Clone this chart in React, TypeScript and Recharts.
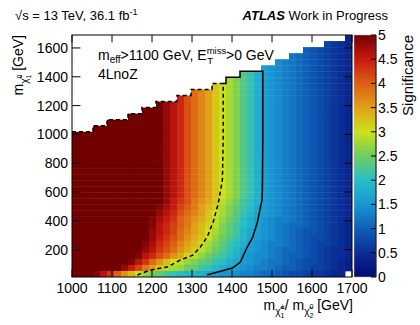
import React from "react";
import { ScatterChart, Scatter, XAxis, YAxis, ComposedChart, ReferenceArea } from "recharts";

const FONT = "'Liberation Sans', Arial, Helvetica, sans-serif";

const X_RANGE = [1000, 1700];
const Y_RANGE = [10, 1690];
const X_TICKS = [1000, 1100, 1200, 1300, 1400, 1500, 1600, 1700];
const Y_TICKS = [200, 400, 600, 800, 1000, 1200, 1400, 1600];
const Z_TICKS = [0, 0.5, 1, 1.5, 2, 2.5, 3, 3.5, 4, 4.5, 5];
const NX = 40;
const NY = 40;

// one char per bin, value = LEVELS.indexOf(c) / 10, "." = empty bin
const LEVELS = "0123456789ABCDEFGHIJKLMNOPQRSTUVWXYZabcdefghijklmno";

// significance, top row first (rows are right aligned, empty bins on the left)
const SIG_ROWS = [
  "4",
  "7654",
  "A987654",
  "CBA987654",
  "EDCBA987654",
  "GFEDCBA987654",
  "NLIGFEDCBA987654",
  "SQNLIGFEDCBA987654",
  "WUSQNLIGFEDCBA987654",
  "dbZWUSQNLIGFEDCBA987654",
  "ifdbZWUSQNLIGFEDCBA987654",
  "omkifdbZWUSQNLIGFEDCBA987654",
  "ooomkifdbZWUSQNLIGFEDCBA987654",
  "ooooomkifdbZWUSQNLIGFEDCBA987654",
  "oooooooomkifdbZWUSQNLIGFEDCBA987654",
  "oooooooooomkifdbZWUSQNLIGFEDCBA987654",
  "ooooooooooooomkifdbZWUSQNLIGFEDCBA987654",
  "ooooooooooooomkifdbZWUSQNLIGFEDCBA987654",
  "ooooooooooooomkifdbZWUSQNLIGFEDCBA987654",
  "ooooooooooooomkifdbZWUSQNLIGFEDCBA987654",
  "ooooooooooooomkifdbZWUSQNLIGFEDCBA987654",
  "ooooooooooooomkifdbZWUSQNLIGFEDCBA987654",
  "ooooooooooooomkifdbZWUSQNLIGFEDCBA987654",
  "ooooooooooooomkifdbZWUSQNLIGFEDCBA987654",
  "ooooooooooooomkifdbZWUSQNLIGFEDCBA987654",
  "ooooooooooooomkifdbZWUSQNLIGFEDCBA987654",
  "ooooooooooooomkifdbZWUSQNLIGFEDCBA987654",
  "ooooooooooooomjhfcaYWTRPMKIGFEDCBA987654",
  "oooooooooooonljgecZXVSQOMKHGFEDCBA987654",
  "oooooooooooomkifdbZWUSQNLJHGFEDCBA987654",
  "ooooooooooonljhecaYWTRPNKIGFEDDCBA987654",
  "ooooooooooonkigecZXVTQOMKIGFEDCBBA987654",
  "ooooooooooomkigdbZXUSQOMJHGFEDCBA9987654",
  "ooooooooooomjhfdaYWURPNLJHGFEDCBA9887654",
  "oooooooooonligebZXVSQOMKIGFEDDCBA9877654",
  "oooooooooomkhfdaYWTRPNLJHGFEDCBBA9876554",
  "ooooooooonkifdaYVTRPNMKIGFEEDCBAA9876554",
  "oooooooonkhdaXUTRQONLKIHGFEDCCBA98876543",
  "ooooooomjgcZWTSRPOMLJIHGFEDDCBAA98776543",
  "ooonkheaXURPOMLKJIIHGFFEDDCBBA988766544.",
].map((s) => s.padStart(NX, "."));

// 3 sigma contour (dashed) and 95% CL contour (solid), in GeV
const CONTOUR_DASHED = [
  { x: 1000, y: 1018 }, { x: 1052.5, y: 1018 }, { x: 1052.5, y: 1060 }, { x: 1087.5, y: 1060 },
  { x: 1087.5, y: 1102 }, { x: 1140, y: 1102 }, { x: 1140, y: 1144 }, { x: 1175, y: 1144 },
  { x: 1175, y: 1186 }, { x: 1210, y: 1186 }, { x: 1210, y: 1228 }, { x: 1262.5, y: 1228 },
  { x: 1262.5, y: 1270 }, { x: 1297.5, y: 1270 }, { x: 1297.5, y: 1312 }, { x: 1350, y: 1312 },
  { x: 1350, y: 1354 }, { x: 1378, y: 1354 }, { x: 1378, y: 961 }, { x: 1376, y: 684 },
  { x: 1366, y: 524 }, { x: 1353, y: 392 }, { x: 1338, y: 288 }, { x: 1321, y: 218 },
  { x: 1303, y: 163 }, { x: 1271, y: 128 }, { x: 1238, y: 79 }, { x: 1196, y: 59 },
  { x: 1163, y: 24 }, { x: 1156, y: 12 },
];
const CONTOUR_SOLID = [
  { x: 1378, y: 1354 }, { x: 1385, y: 1354 }, { x: 1385, y: 1396 }, { x: 1420, y: 1396 },
  { x: 1420, y: 1438 }, { x: 1477, y: 1438 }, { x: 1477, y: 961 }, { x: 1476, y: 614 },
  { x: 1475, y: 545 }, { x: 1463, y: 385 }, { x: 1451, y: 281 }, { x: 1438, y: 218 },
  { x: 1421, y: 114 }, { x: 1401, y: 72 }, { x: 1346, y: 31 }, { x: 1338, y: 26 },
];

const PALETTE: [number, number[]][] = [
  [0, [5, 10, 115]],
  [0.5, [10, 45, 150]],
  [1.0, [15, 95, 185]],
  [1.5, [25, 150, 210]],
  [2.0, [40, 190, 200]],
  [2.5, [110, 205, 95]],
  [3.0, [205, 225, 25]],
  [3.5, [225, 160, 25]],
  [4.0, [220, 95, 20]],
  [4.5, [200, 25, 15]],
  [5.0, [115, 0, 0]],
];

function colorFor(v: number) {
  const z = Math.max(0, Math.min(5, v));
  for (let i = 1; i < PALETTE.length; i++) {
    const [z1, c1] = PALETTE[i];
    const [z0, c0] = PALETTE[i - 1];
    if (z <= z1) {
      const t = (z - z0) / (z1 - z0);
      const c = c0.map((a, j) => Math.round(a + (c1[j] - a) * t));
      return `rgb(${c[0]},${c[1]},${c[2]})`;
    }
  }
  return "rgb(115,0,0)";
}

const W = 420;
const H = 325;
const PLOT_L = 72;
const PLOT_T = 35;
const PLOT_R = 352;
const PLOT_B = 277;
const CELL_W = (PLOT_R - PLOT_L) / NX;
const CELL_H = (PLOT_B - PLOT_T) / NY;

const dx = (X_RANGE[1] - X_RANGE[0]) / NX;
const dy = (Y_RANGE[1] - Y_RANGE[0]) / NY;
const cells: { x: number; y: number; z: number }[] = [];
SIG_ROWS.forEach((row, i) => {
  const r = NY - 1 - i;
  for (let k = 0; k < NX; k++) {
    const c = row[k];
    if (c === ".") continue;
    cells.push({
      x: X_RANGE[0] + (k + 0.5) * dx,
      y: Y_RANGE[0] + (r + 0.5) * dy,
      z: LEVELS.indexOf(c) / 10,
    });
  }
});

const CellShape = (p: any) => {
  if (p.cx == null || p.cy == null) return <g />;
  return (
    <rect
      x={p.cx - CELL_W / 2}
      y={p.cy - CELL_H / 2}
      width={CELL_W + 0.4}
      height={CELL_H + 0.4}
      fill={colorFor(p.payload.z)}
    />
  );
};

const XTick = (p: any) => (
  <g>
    <line x1={p.x} x2={p.x} y1={PLOT_B} y2={PLOT_B - 7.3} stroke="#000" strokeWidth={1} />
    <line x1={p.x} x2={p.x} y1={PLOT_T} y2={PLOT_T + 7.3} stroke="#000" strokeWidth={1} />
    <text x={p.x} y={PLOT_B + 16} textAnchor="middle" fontSize={14} fontFamily={FONT} fill="#000">
      {p.payload.value}
    </text>
  </g>
);

const YTick = (p: any) => (
  <g>
    <line x1={PLOT_L} x2={PLOT_L + 8.4} y1={p.y} y2={p.y} stroke="#000" strokeWidth={1} />
    <line x1={PLOT_R} x2={PLOT_R - 8.4} y1={p.y} y2={p.y} stroke="#000" strokeWidth={1} />
    <text x={PLOT_L - 4} y={p.y + 5} textAnchor="end" fontSize={14} fontFamily={FONT} fill="#000">
      {p.payload.value}
    </text>
  </g>
);

const ZTick = (p: any) => (
  <g>
    <line x1={p.x - 5} x2={p.x} y1={p.y} y2={p.y} stroke="#000" strokeWidth={1} />
    <text x={p.x + 2} y={p.y + 5} textAnchor="start" fontSize={14} fontFamily={FONT} fill="#000">
      {p.payload.value}
    </text>
  </g>
);

const noPoint = () => <g />;

export default function App() {
  return (
    <div style={{ position: "absolute", left: 0, top: 0, width: W, height: H, background: "#fff" }}>
      <div style={{ position: "absolute", left: 0, top: 0 }}>
        <ScatterChart width={W} height={H} margin={{ top: PLOT_T, right: W - PLOT_R, bottom: 0, left: 0 }}>
          <Scatter data={cells} shape={CellShape} isAnimationActive={false} />
          <Scatter
            data={CONTOUR_DASHED}
            shape={noPoint}
            line={{ stroke: "#000", strokeWidth: 1.5, strokeDasharray: "4 3" }}
            lineJointType="linear"
            isAnimationActive={false}
          />
          <Scatter
            data={CONTOUR_SOLID}
            shape={noPoint}
            line={{ stroke: "#000", strokeWidth: 1.5 }}
            lineJointType="linear"
            isAnimationActive={false}
          />
          <XAxis
            type="number"
            dataKey="x"
            domain={X_RANGE}
            ticks={X_TICKS}
            interval={0}
            allowDataOverflow
            height={H - PLOT_B}
            tickSize={0}
            tickMargin={0}
            axisLine={false}
            tick={XTick}
          />
          <YAxis
            type="number"
            dataKey="y"
            domain={Y_RANGE}
            ticks={Y_TICKS}
            interval={0}
            allowDataOverflow
            width={PLOT_L}
            tickSize={0}
            tickMargin={0}
            axisLine={false}
            tick={YTick}
          />
        </ScatterChart>
      </div>

      <div style={{ position: "absolute", left: 0, top: 0 }}>
        <ComposedChart width={W} height={H} margin={{ top: PLOT_T, right: 0, bottom: H - PLOT_B, left: 354 }}>
          <defs>
            <linearGradient id="sigGrad" x1="0" y1="1" x2="0" y2="0">
              {PALETTE.map(([z, c]) => (
                <stop key={z} offset={`${(z / 5) * 100}%`} stopColor={`rgb(${c[0]},${c[1]},${c[2]})`} />
              ))}
            </linearGradient>
          </defs>
          <XAxis type="number" dataKey="x" domain={[0, 1]} hide allowDataOverflow />
          <YAxis
            type="number"
            orientation="right"
            domain={[0, 5]}
            ticks={Z_TICKS}
            interval={0}
            allowDataOverflow
            width={W - 376}
            tickSize={0}
            tickMargin={0}
            axisLine={{ stroke: "#000" }}
            tick={ZTick}
          />
          <ReferenceArea x1={0} x2={1} y1={0} y2={5} fill="url(#sigGrad)" fillOpacity={1} stroke="#bbb" strokeWidth={0.5} ifOverflow="visible" />
        </ComposedChart>
      </div>

      <svg width={W} height={H} style={{ position: "absolute", left: 0, top: 0, pointerEvents: "none" }} fontFamily={FONT}>
        <rect x={PLOT_L} y={PLOT_T} width={PLOT_R - PLOT_L} height={PLOT_B - PLOT_T} fill="none" stroke="#000" strokeWidth={1} />
        <text x={15} y={19.5} fontSize={13} fill="#000">
          √s = 13 TeV, 36.1 fb<tspan fontSize={9} dy={-5}>-1</tspan>
        </text>
        <text x={388} y={19.5} fontSize={13} fill="#000" textAnchor="end">
          <tspan fontWeight="bold" fontStyle="italic">ATLAS</tspan> Work in Progress
        </text>
        <text x={98} y={60} fontSize={14} fill="#000">
          m<tspan fontSize={10} dy={3}>eff</tspan>
          <tspan dy={-3}>&gt;1100 GeV, E</tspan>
          <tspan fontSize={9.5} dy={-6}>miss</tspan>
          <tspan fontSize={9.5} dx={-19} dy={10}>T</tspan>
          <tspan dx={13} dy={-4}>&gt;0 GeV</tspan>
        </text>
        <text x={98} y={79} fontSize={14} fill="#000">4LnoZ</text>
        <text transform="translate(23,35) rotate(-90)" textAnchor="end" fontSize={14} fill="#000">
          m<tspan fontSize={10} dy={5}>χ̃</tspan>
          <tspan fontSize={7} dy={3}>1</tspan>
          <tspan fontSize={7} dx={-4} dy={-9}>0</tspan>
          <tspan fontSize={14} dy={1}> [GeV]</tspan>
        </text>
        <text x={353} y={310} textAnchor="end" fontSize={14} fill="#000">
          m<tspan fontSize={10} dy={5}>χ̃</tspan>
          <tspan fontSize={7} dy={3}>1</tspan>
          <tspan fontSize={8} dx={-4} dy={-9}>±</tspan>
          <tspan fontSize={14} dy={1}>/ m</tspan>
          <tspan fontSize={10} dy={5}>χ̃</tspan>
          <tspan fontSize={7} dy={3}>2</tspan>
          <tspan fontSize={7} dx={-4} dy={-9}>0</tspan>
          <tspan fontSize={14} dy={1}> [GeV]</tspan>
        </text>
        <text transform="translate(413,35) rotate(-90)" textAnchor="end" fontSize={15} fill="#000">
          Significance
        </text>
      </svg>
    </div>
  );
}
